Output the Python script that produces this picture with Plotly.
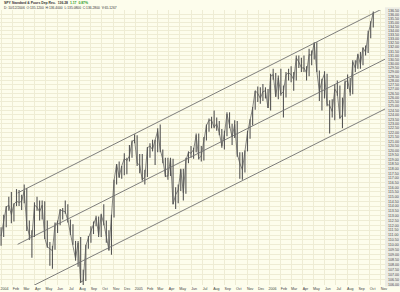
import math
import pandas as pd
import plotly.graph_objects as go

# ---------------- data (weekly bars) ----------------
week_start = "2003-12-31"          # weekly bars, one per week (mid-week date)
highs = [
    111.8, 113.1, 114.0, 115.0, 115.5, 114.3, 115.8, 115.7, 115.2, 116.3,
    115.9, 112.5, 111.5, 114.4, 115.0, 114.6, 114.6, 114.5, 112.5, 110.3,
    109.9, 112.3, 112.5, 113.7, 113.8, 114.6, 114.2, 112.6, 112.1, 110.4,
    110.4, 110.8, 107.5, 110.0, 110.9, 111.9, 112.4, 113.0, 112.9, 113.2,
    114.2, 112.5, 111.5, 113.1, 116.8, 118.5, 118.8, 118.3, 119.7, 119.2,
    120.6, 121.1, 121.8, 121.7, 119.6, 119.6, 117.9, 120.4, 120.8, 121.2,
    121.2, 122.5, 122.9, 120.1, 119.2, 119.2, 119.2, 119.1, 116.0, 116.3,
    118.0, 118.0, 119.2, 119.9, 120.5, 120.3, 121.9, 121.9, 120.5, 121.5,
    122.9, 123.6, 123.8, 124.5, 123.7, 123.3, 122.4, 122.2, 124.3, 124.3,
    123.0, 123.4, 123.3, 119.8, 119.8, 120.0, 122.2, 123.5, 124.9, 126.8,
    127.3, 127.2, 127.6, 127.2, 127.0, 128.8, 129.4, 128.9, 128.6, 129.4,
    127.4, 129.0, 129.4, 129.7, 129.0, 131.0, 131.0, 130.7, 131.0, 129.7,
    131.8, 131.6, 132.6, 132.6, 129.2, 128.2, 129.1, 128.8, 125.7, 125.8,
    127.6, 128.0, 127.4, 126.0, 128.0, 128.7, 128.3, 130.4, 130.4, 131.2,
    131.4, 132.0, 132.2, 134.0, 135.2, 136.4,
]
lows = [
    109.9, 110.8, 111.8, 113.5, 112.2, 112.4, 114.0, 114.0, 113.6, 114.3,
    111.4, 110.5, 108.7, 110.8, 113.5, 112.5, 112.6, 110.6, 109.7, 107.9,
    107.6, 109.5, 111.2, 112.0, 112.6, 113.2, 112.3, 111.0, 110.0, 108.4,
    107.8, 106.2, 106.0, 106.4, 109.6, 110.2, 111.1, 111.9, 110.8, 110.8,
    112.0, 110.2, 109.4, 109.0, 112.8, 116.3, 117.0, 116.9, 117.3, 117.4,
    118.8, 119.2, 120.8, 118.3, 117.5, 116.7, 116.3, 117.1, 119.2, 119.9,
    118.4, 119.8, 119.8, 118.6, 117.1, 116.8, 117.2, 114.2, 113.7, 114.3,
    115.6, 114.6, 115.3, 118.6, 119.2, 119.1, 119.8, 119.0, 118.8, 118.9,
    121.1, 122.1, 122.5, 122.5, 122.2, 121.7, 120.3, 120.1, 121.6, 122.5,
    120.6, 121.4, 119.3, 116.9, 116.8, 117.6, 119.9, 121.3, 122.8, 124.6,
    125.5, 125.3, 125.6, 125.9, 124.8, 124.5, 128.1, 126.1, 125.8, 126.2,
    123.7, 126.0, 128.0, 127.8, 126.8, 128.0, 129.5, 129.0, 129.0, 128.0,
    128.5, 129.8, 130.5, 129.0, 125.6, 124.5, 125.9, 125.0, 121.9, 123.7,
    123.4, 126.2, 123.6, 122.5, 123.8, 127.0, 126.2, 126.4, 129.0, 129.4,
    129.4, 129.8, 131.0, 131.3, 133.1, 134.4,
]
closes = [
    110.9, 112.2, 113.9, 114.1, 113.1, 114.2, 114.5, 114.4, 114.5, 115.6,
    112.0, 111.0, 110.8, 114.1, 113.9, 113.4, 114.1, 110.7, 109.8, 109.6,
    109.4, 112.1, 112.3, 113.6, 113.5, 113.4, 112.5, 111.2, 110.1, 108.6,
    110.2, 106.3, 106.4, 109.9, 110.7, 111.4, 112.3, 112.8, 111.0, 113.1,
    112.2, 110.8, 109.5, 113.0, 116.7, 118.5, 117.1, 118.3, 119.1, 118.9,
    119.4, 121.0, 121.2, 118.6, 118.4, 116.8, 117.1, 120.3, 120.5, 120.1,
    121.1, 122.2, 120.1, 119.0, 117.2, 117.2, 119.1, 114.2, 115.2, 115.7,
    117.9, 115.4, 118.9, 119.8, 119.7, 120.1, 121.7, 119.1, 119.4, 121.2,
    122.8, 123.4, 123.4, 122.6, 123.0, 122.0, 120.5, 121.8, 124.1, 122.8,
    121.5, 122.9, 119.6, 118.6, 117.9, 119.9, 122.0, 123.4, 124.8, 126.8,
    126.5, 125.9, 126.7, 126.8, 124.8, 128.5, 128.7, 126.1, 128.3, 126.4,
    126.7, 128.7, 128.9, 128.7, 128.1, 130.7, 130.2, 129.5, 129.5, 128.9,
    131.1, 131.0, 132.5, 129.1, 126.7, 128.0, 128.8, 125.2, 125.1, 124.4,
    127.0, 126.5, 123.6, 124.0, 127.8, 128.0, 126.6, 130.2, 129.5, 131.1,
    129.9, 131.9, 131.4, 133.6, 134.9, 136.28,
]

# channel (parallel trend lines): start / end dates and prices
channel_dates = ["2004-02-14", "2006-11-28"]
channel_top = [115.39, 137.30]
channel_mid = [110.05, 130.90]
channel_bot = [105.17, 125.02]

# axis labels
y_ticks = [106.0 + 0.5 * i for i in range(62)]           # 106.00 ... 136.50
month_starts = pd.date_range("2004-01-01", "2006-11-01", freq="MS")
month_labels = [str(d.year) if d.month == 1 else d.strftime("%b") for d in month_starts]

title_line1 = ("<b>SPY Standard & Poors Dep Rec.  136.28</b>  "
               "<span style='color:#1f9a1f'><b>1.17  0.87%</b></span>")
title_line2 = "D: 10/12/2006  O:135.1200  H:136.4000  L:135.0800  C:136.2800  V:65.1267"

# ---------------- figure ----------------
dates = pd.date_range(week_start, periods=len(highs), freq="7D")

bx, by = [], []
for d, h, l in zip(dates, highs, lows):
    bx += [d, d, None]
    by += [h, l, None]

BAR = "#555555"
fig = go.Figure()
fig.add_trace(go.Scatter(x=bx, y=by, mode="lines",
                         line=dict(color=BAR, width=1.1), hoverinfo="skip"))
fig.add_trace(go.Scatter(x=dates, y=closes, mode="lines",
                         line=dict(color=BAR, width=0.7), hoverinfo="skip"))
for ys in (channel_top, channel_mid, channel_bot):
    fig.add_trace(go.Scatter(x=channel_dates, y=ys, mode="lines",
                             line=dict(color="#707070", width=0.9), hoverinfo="skip"))

FONT = "Liberation Sans"
BG = "#FDFDEC"
GRID = "#EEECD4"
fig.update_layout(
    width=400, height=292,
    margin=dict(l=0, r=15, t=10, b=7),
    paper_bgcolor=BG,
    plot_bgcolor=BG,
    showlegend=False,
    font=dict(family=FONT, size=4, color="#444444"),
    xaxis=dict(
        type="date",
        range=["2003-12-28", "2006-11-12"],
        tickmode="array", tickvals=month_starts, ticktext=month_labels,
        showgrid=True, gridcolor=GRID, gridwidth=1,
        zeroline=False, showline=False, ticks="",
        tickfont=dict(size=3.6, color="#444444"),
        ticklabelshift=3, ticklabelstandoff=0,
    ),
    yaxis=dict(
        type="log",
        range=[math.log10(106.0), math.log10(136.6)],
        side="right",
        tickmode="array", tickvals=y_ticks,
        ticktext=[f"{v:.2f}" for v in y_ticks],
        showgrid=True, gridcolor=GRID, gridwidth=1,
        zeroline=False, showline=False, ticks="",
        tickfont=dict(size=3.6, color="#444444"),
        ticklabelstandoff=2,
    ),
    shapes=[
        dict(type="rect", xref="paper", yref="paper", x0=1.0, x1=1.04, y0=-0.005, y1=1.01,
             fillcolor="#ECECE4", line=dict(width=0), layer="below"),
    ],
    annotations=[
        dict(xref="paper", yref="paper", x=0.004, y=1.026, xanchor="left", yanchor="middle",
             text=title_line1, showarrow=False, font=dict(size=3.4, color="#333333", family=FONT)),
        dict(xref="paper", yref="paper", x=0.004, y=1.008, xanchor="left", yanchor="middle",
             text=title_line2, showarrow=False, font=dict(size=3.3, color="#333333", family=FONT)),
    ],
)

fig.write_html("out.html")
